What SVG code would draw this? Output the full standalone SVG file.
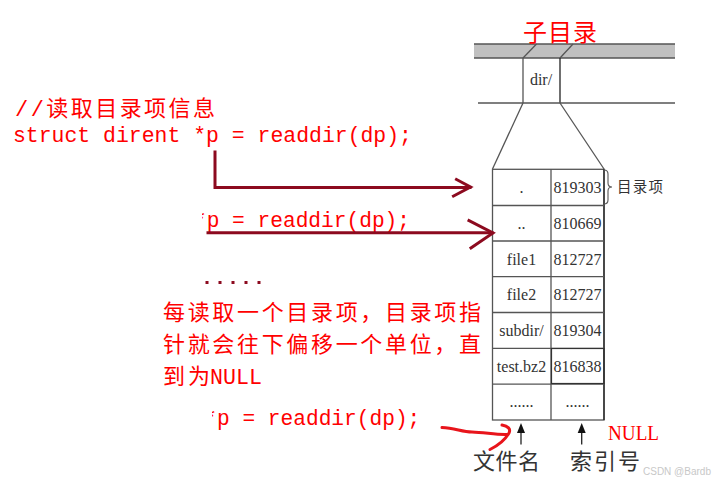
<svg xmlns="http://www.w3.org/2000/svg" width="714" height="483" viewBox="0 0 714 483">
<defs>
<style>
.red{fill:#ff0000;font-family:"Liberation Mono","Noto Sans CJK SC",monospace;}
.cjk{fill:#ff0000;font-family:"Noto Sans CJK SC",sans-serif;}
.cell{fill:#333;font-family:"Liberation Serif","Noto Sans CJK SC",serif;font-size:16px;text-anchor:middle;}
.lbl{fill:#333;font-family:"Noto Sans CJK SC",sans-serif;}
.grid{stroke:#555;stroke-width:1.3;fill:none;}
.darr{stroke:#8c0a1f;stroke-width:3;fill:none;stroke-linecap:square;}
</style>
<clipPath id="c2"><rect x="202" y="200" width="300" height="40"/></clipPath>
<clipPath id="c3"><rect x="212" y="400" width="300" height="40"/></clipPath>
</defs>
<rect width="714" height="483" fill="#fff"/>

<g id="dir-band">
<rect x="474" y="44" width="201" height="14" fill="#c0c0c0"/>
<line class="grid" x1="474" y1="44" x2="675" y2="44"/>
<line class="grid" x1="474" y1="58" x2="675" y2="58"/>
<line class="grid" x1="536.5" y1="44" x2="523" y2="58"/>
<line class="grid" x1="573" y1="44" x2="560" y2="58"/>
<line class="grid" x1="523" y1="58" x2="523" y2="103"/>
<line x1="560" y1="58" x2="560" y2="103" stroke="#222" stroke-width="1.3"/>
<line class="grid" x1="478" y1="103" x2="675" y2="103"/>
<text class="cell" x="541" y="85">dir/</text>
<text class="cjk" x="523" y="41" font-size="24" textLength="74" lengthAdjust="spacing">子目录</text>
</g>

<g id="table">
<line class="grid" x1="523" y1="103" x2="492.5" y2="169"/>
<line class="grid" x1="560" y1="103" x2="604" y2="169"/>
<rect class="grid" x="492.5" y="169.3" width="111.5" height="250.7"/>
<line class="grid" x1="551" y1="169.3" x2="551" y2="420"/>
<line x1="604" y1="169.3" x2="604" y2="420" stroke="#222" stroke-width="1.3"/>
<line class="grid" x1="492.5" y1="205.5" x2="604" y2="205.5"/>
<line class="grid" x1="492.5" y1="241" x2="604" y2="241"/>
<line class="grid" x1="492.5" y1="276.7" x2="604" y2="276.7"/>
<line class="grid" x1="492.5" y1="312.5" x2="604" y2="312.5"/>
<line class="grid" x1="492.5" y1="348.3" x2="604" y2="348.3"/>
<line class="grid" x1="492.5" y1="384.2" x2="604" y2="384.2"/>
<rect x="551.5" y="348.5" width="52.5" height="35" fill="none" stroke="#333" stroke-width="1.2"/>
<text class="cell" x="521.5" y="193">.</text>
<text class="cell" x="577.5" y="193">819303</text>
<text class="cell" x="521.5" y="229">..</text>
<text class="cell" x="577.5" y="229">810669</text>
<text class="cell" x="521.5" y="264.5">file1</text>
<text class="cell" x="577.5" y="264.5">812727</text>
<text class="cell" x="521.5" y="300">file2</text>
<text class="cell" x="577.5" y="300">812727</text>
<text class="cell" x="521.5" y="336">subdir/</text>
<text class="cell" x="577.5" y="336">819304</text>
<text class="cell" x="521.5" y="372">test.bz2</text>
<text class="cell" x="577.5" y="372">816838</text>
<text class="cell" x="521.5" y="407" font-size="11">......</text>
<text class="cell" x="577.5" y="407" font-size="11">......</text>
<path d="M604,170 q4,0 4,4 v9 q0,4 4,4 q-4,0 -4,4 v9 q0,4 -4,4" fill="none" stroke="#555" stroke-width="1.1"/>
<text class="lbl" x="617" y="192" font-size="14.5" textLength="46" lengthAdjust="spacing">目录项</text>
</g>

<g id="column-labels">
<text class="lbl" x="473" y="469" font-size="22" textLength="67" lengthAdjust="spacing">文件名</text>
<text class="lbl" x="570" y="469" font-size="22" textLength="70" lengthAdjust="spacing">索引号</text>
<text x="608" y="440" fill="#ff0000" font-family="Liberation Serif,serif" font-size="22" textLength="51" lengthAdjust="spacingAndGlyphs">NULL</text>
<text x="643" y="475" fill="#c8c8c8" font-family="Liberation Sans,sans-serif" font-size="10">CSDN @Bardb</text>
</g>

<g id="code">
<text class="red" x="15" y="115.5" font-size="22" textLength="200" lengthAdjust="spacing">//读取目录项信息</text>
<text class="red" x="13" y="141.7" font-size="22" textLength="399" lengthAdjust="spacingAndGlyphs">struct dirent *p = readdir(dp);</text>
<text class="red" x="194" y="227" font-size="22" textLength="216" lengthAdjust="spacingAndGlyphs" clip-path="url(#c2)">*p = readdir(dp);</text>
<text class="red" x="204.3" y="424.5" font-size="22" textLength="216" lengthAdjust="spacingAndGlyphs" clip-path="url(#c3)">*p = readdir(dp);</text>
<g fill="#8c0a1f">
<rect x="205.5" y="281" width="3" height="3"/>
<rect x="218.5" y="281" width="3" height="3"/>
<rect x="231.5" y="281" width="3" height="3"/>
<rect x="244.5" y="281" width="3" height="3"/>
<rect x="257.5" y="281" width="3" height="3"/>
</g>
<text class="cjk" x="163" y="320" font-size="22" textLength="318" lengthAdjust="spacing">每读取一个目录项，目录项指</text>
<text class="cjk" x="163" y="352" font-size="22" textLength="318" lengthAdjust="spacing">针就会往下偏移一个单位，直</text>
<text class="cjk" x="163" y="384" font-size="22"><tspan textLength="47" lengthAdjust="spacing">到为</tspan><tspan x="210" font-family="Liberation Mono,monospace" textLength="52" lengthAdjust="spacingAndGlyphs">NULL</tspan></text>
</g>

<g id="connectors">
<polyline class="darr" points="215,152 215,187.5 470,187.5"/>
<polyline class="darr" points="456.5,179.5 470.5,187 453.5,196"/>
<line class="darr" x1="208" y1="232.7" x2="492" y2="232.7"/>
<polyline class="darr" points="469,220.5 493,233 471,248"/>
<path d="M442,427.5 C455,428 462,432 472,432 C485,432.5 497,435 507,434.5" fill="none" stroke="#e8141b" stroke-width="3" stroke-linecap="round"/>
<path d="M502,425 C508,426 511,429 509,433 C505,440 497,446 490,449.5" fill="none" stroke="#e8141b" stroke-width="3" stroke-linecap="round"/>
<line x1="521" y1="431" x2="521" y2="444.5" stroke="#222" stroke-width="1.3"/>
<polygon points="521,423 517,433 525,433" fill="#111"/>
<line x1="581.7" y1="431" x2="581.7" y2="444.5" stroke="#222" stroke-width="1.3"/>
<polygon points="581.7,423 577.7,433 585.7,433" fill="#111"/>
</g>
</svg>
